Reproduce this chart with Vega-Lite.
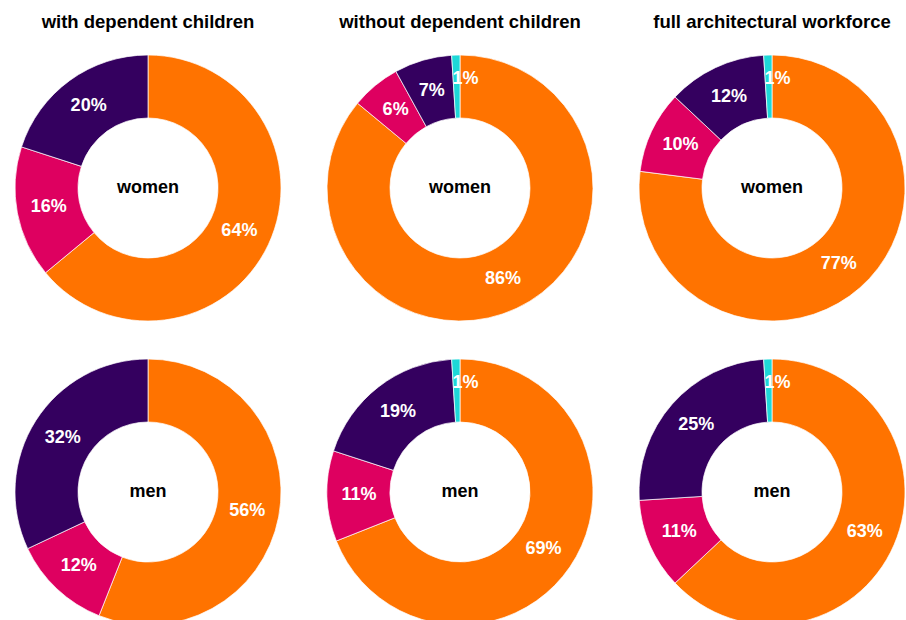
{
  "$schema": "https://vega.github.io/schema/vega-lite/v6.json",
  "padding": {"left": 13, "top": 12, "right": 0, "bottom": 0},
  "background": "white",
  "data": {
    "values": [
      {"group": "with dependent children", "sex": "women", "cat": "A", "k": 1, "pct": 0.64},
      {"group": "with dependent children", "sex": "women", "cat": "B", "k": 2, "pct": 0.16},
      {"group": "with dependent children", "sex": "women", "cat": "C", "k": 3, "pct": 0.20},
      {"group": "with dependent children", "sex": "men", "cat": "A", "k": 1, "pct": 0.56},
      {"group": "with dependent children", "sex": "men", "cat": "B", "k": 2, "pct": 0.12},
      {"group": "with dependent children", "sex": "men", "cat": "C", "k": 3, "pct": 0.32},
      {"group": "without dependent children", "sex": "women", "cat": "A", "k": 1, "pct": 0.86},
      {"group": "without dependent children", "sex": "women", "cat": "B", "k": 2, "pct": 0.06},
      {"group": "without dependent children", "sex": "women", "cat": "C", "k": 3, "pct": 0.07},
      {"group": "without dependent children", "sex": "women", "cat": "D", "k": 4, "pct": 0.01},
      {"group": "without dependent children", "sex": "men", "cat": "A", "k": 1, "pct": 0.69},
      {"group": "without dependent children", "sex": "men", "cat": "B", "k": 2, "pct": 0.11},
      {"group": "without dependent children", "sex": "men", "cat": "C", "k": 3, "pct": 0.19},
      {"group": "without dependent children", "sex": "men", "cat": "D", "k": 4, "pct": 0.01},
      {"group": "full architectural workforce", "sex": "women", "cat": "A", "k": 1, "pct": 0.77},
      {"group": "full architectural workforce", "sex": "women", "cat": "B", "k": 2, "pct": 0.10},
      {"group": "full architectural workforce", "sex": "women", "cat": "C", "k": 3, "pct": 0.12},
      {"group": "full architectural workforce", "sex": "women", "cat": "D", "k": 4, "pct": 0.01},
      {"group": "full architectural workforce", "sex": "men", "cat": "A", "k": 1, "pct": 0.63},
      {"group": "full architectural workforce", "sex": "men", "cat": "B", "k": 2, "pct": 0.11},
      {"group": "full architectural workforce", "sex": "men", "cat": "C", "k": 3, "pct": 0.25},
      {"group": "full architectural workforce", "sex": "men", "cat": "D", "k": 4, "pct": 0.01}
    ]
  },
  "facet": {
    "column": {
      "field": "group",
      "sort": ["with dependent children", "without dependent children", "full architectural workforce"],
      "title": null,
      "header": {"labelFontSize": 18.5, "labelFontWeight": "bold", "labelFont": "Liberation Sans", "labelColor": "black", "labelPadding": 22}
    },
    "row": {
      "field": "sex",
      "sort": ["women", "men"],
      "title": null,
      "header": {"labels": false}
    }
  },
  "spacing": {"column": 42, "row": 34},
  "spec": {
    "width": 270,
    "height": 270,
    "layer": [
      {
        "mark": {"type": "arc", "outerRadius": 133, "innerRadius": 70, "stroke": "white", "strokeWidth": 0.7},
        "encoding": {
          "theta": {"field": "pct", "type": "quantitative", "stack": true},
          "order": {"field": "k", "type": "quantitative"},
          "color": {
            "field": "cat",
            "type": "nominal",
            "scale": {"domain": ["A", "B", "C", "D"], "range": ["#FF7300", "#DE0060", "#34005F", "#1ED8D8"]},
            "legend": null
          }
        }
      },
      {
        "mark": {"type": "text", "radius": 101, "fontSize": 18, "fontWeight": "bold", "font": "Liberation Sans", "color": "white", "baseline": "middle", "align": "center"},
        "encoding": {
          "theta": {"field": "pct", "type": "quantitative", "stack": true},
          "order": {"field": "k", "type": "quantitative"},
          "detail": {"field": "cat", "type": "nominal"},
          "text": {"field": "pct", "type": "quantitative", "format": ".0%"},
          "opacity": {"condition": {"test": "datum.cat == 'D'", "value": 0}, "value": 1}
        }
      },
      {
        "mark": {"type": "text", "radius": 109, "dx": 9, "fontSize": 18, "fontWeight": "bold", "font": "Liberation Sans", "color": "white", "baseline": "middle", "align": "center"},
        "encoding": {
          "theta": {"field": "pct", "type": "quantitative", "stack": true},
          "order": {"field": "k", "type": "quantitative"},
          "detail": {"field": "cat", "type": "nominal"},
          "text": {"field": "pct", "type": "quantitative", "format": ".0%"},
          "opacity": {"condition": {"test": "datum.cat == 'D'", "value": 1}, "value": 0}
        }
      },
      {
        "transform": [{"filter": "datum.cat == 'A'"}],
        "mark": {"type": "text", "fontSize": 18, "fontWeight": "bold", "font": "Liberation Sans", "color": "black", "baseline": "middle", "align": "center"},
        "encoding": {
          "text": {"field": "sex", "type": "nominal"}
        }
      }
    ]
  },
  "config": {"view": {"stroke": null}}
}
